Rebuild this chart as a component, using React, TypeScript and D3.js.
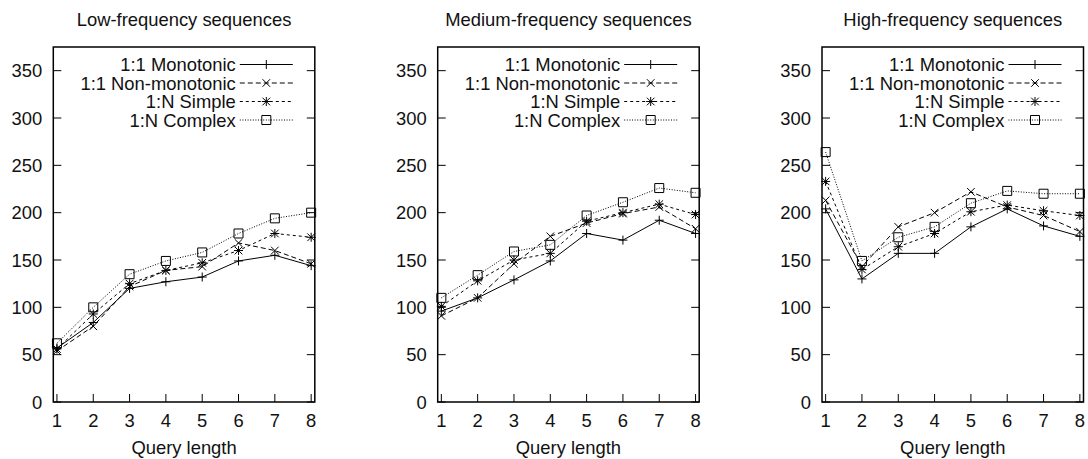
import React from 'react';
import * as d3 from 'd3';

// query lengths on the x axis
const queryLengths = [1, 2, 3, 4, 5, 6, 7, 8];
const yTicks = [0, 50, 100, 150, 200, 250, 300, 350];

const seriesNames = ['1:1 Monotonic', '1:1 Non-monotonic', '1:N Simple', '1:N Complex'];

const lowMono = [57, 84, 120, 127, 132, 149, 155, 144];
const lowNonMono = [54, 80, 122, 139, 143, 168, 160, 146];
const lowSimple = [56, 93, 125, 139, 147, 160, 178, 174];
const lowComplex = [62, 100, 135, 149, 158, 178, 194, 200];

const medMono = [96, 110, 129, 149, 178, 171, 192, 178];
const medNonMono = [91, 110, 146, 175, 189, 199, 206, 183];
const medSimple = [101, 128, 150, 157, 191, 200, 209, 198];
const medComplex = [110, 134, 159, 166, 197, 211, 226, 221];

const highMono = [204, 130, 157, 157, 185, 204, 186, 175];
const highNonMono = [213, 143, 185, 200, 222, 206, 197, 180];
const highSimple = [233, 140, 164, 178, 201, 208, 202, 197];
const highComplex = [264, 149, 174, 185, 210, 223, 220, 220];

const panels = [
  { title: 'Low-frequency sequences', series: [lowMono, lowNonMono, lowSimple, lowComplex] },
  { title: 'Medium-frequency sequences', series: [medMono, medNonMono, medSimple, medComplex] },
  { title: 'High-frequency sequences', series: [highMono, highNonMono, highSimple, highComplex] },
];

const W = 1088;
const H = 459;
const FONT = '"Liberation Sans", Arial, Helvetica, sans-serif';
const FS = 18.4;
const panelLefts = [53.3, 437.7, 822];
const panelW = 261.5;
const top = 47;
const bottom = 402;
const tickLen = 8;

const dashes = [undefined, '5,3', '3,3', '1,1.6'];

// point symbols, gnuplot style: plus, cross, star, open square
const Marker: React.FC<{ kind: number; x: number; y: number }> = ({ kind, x, y }) => {
  const s = 4.5;
  const c = 3.8;
  const plus = `M${x - s},${y}H${x + s}M${x},${y - s}V${y + s}`;
  const cross = `M${x - c},${y - c}L${x + c},${y + c}M${x - c},${y + c}L${x + c},${y - c}`;
  let d = '';
  if (kind === 0) d = plus;
  else if (kind === 1) d = cross;
  else if (kind === 2) d = plus + cross;
  else d = `M${x - s},${y - s}H${x + s}V${y + s}H${x - s}Z`;
  return <path d={d} fill="none" stroke="#000" strokeWidth={1} />;
};

const Panel: React.FC<{ idx: number }> = ({ idx }) => {
  const { title, series } = panels[idx];
  const left = panelLefts[idx];
  const right = left + panelW;
  const x = d3.scaleLinear().domain([0.9, 8.1]).range([left, right]);
  const y = d3.scaleLinear().domain([0, 375]).range([bottom, top]);
  const line = d3
    .line<number>()
    .x((_, i) => x(queryLengths[i]))
    .y((d) => y(d));

  return (
    <g>
      <text x={(left + right) / 2} y={26} textAnchor="middle" fontSize={FS}>
        {title}
      </text>

      {yTicks.map((t) => (
        <g key={'y' + t}>
          <line x1={left} x2={left + tickLen} y1={y(t)} y2={y(t)} stroke="#000" />
          <line x1={right} x2={right - tickLen} y1={y(t)} y2={y(t)} stroke="#000" />
          <text x={left - 11} y={y(t)} dy="0.36em" textAnchor="end" fontSize={FS}>
            {t}
          </text>
        </g>
      ))}
      {queryLengths.map((q) => (
        <g key={'x' + q}>
          <line x1={x(q)} x2={x(q)} y1={bottom} y2={bottom - tickLen} stroke="#000" />
          <text x={x(q)} y={427} textAnchor="middle" fontSize={FS}>
            {q}
          </text>
        </g>
      ))}
      <text x={(left + right) / 2} y={454} textAnchor="middle" fontSize={FS}>
        Query length
      </text>

      {series.map((vals, k) => (
        <g key={'s' + k}>
          <path d={line(vals) ?? ''} fill="none" stroke="#000" strokeWidth={1} strokeDasharray={dashes[k]} />
          {vals.map((v, i) => (
            <Marker key={i} kind={k} x={x(queryLengths[i])} y={y(v)} />
          ))}
        </g>
      ))}

      {seriesNames.map((name, k) => {
        const ry = 64.5 + k * 18.5;
        return (
          <g key={'l' + k}>
            <text x={right - 79} y={ry} dy="0.36em" textAnchor="end" fontSize={FS}>
              {name}
            </text>
            <line x1={right - 75} x2={right - 22} y1={ry} y2={ry} stroke="#000" strokeDasharray={dashes[k]} />
            <Marker kind={k} x={right - 48.5} y={ry} />
          </g>
        );
      })}

      <rect x={left} y={top} width={panelW} height={bottom - top} fill="none" stroke="#000" strokeWidth={1.5} />
    </g>
  );
};

export default function App() {
  return (
    <svg
      width={W}
      height={H}
      viewBox={`0 0 ${W} ${H}`}
      style={{ position: 'absolute', left: 0, top: 0, background: '#fff' }}
      fontFamily={FONT}
      fill="#111"
    >
      {panels.map((_, i) => (
        <Panel key={i} idx={i} />
      ))}
    </svg>
  );
}
